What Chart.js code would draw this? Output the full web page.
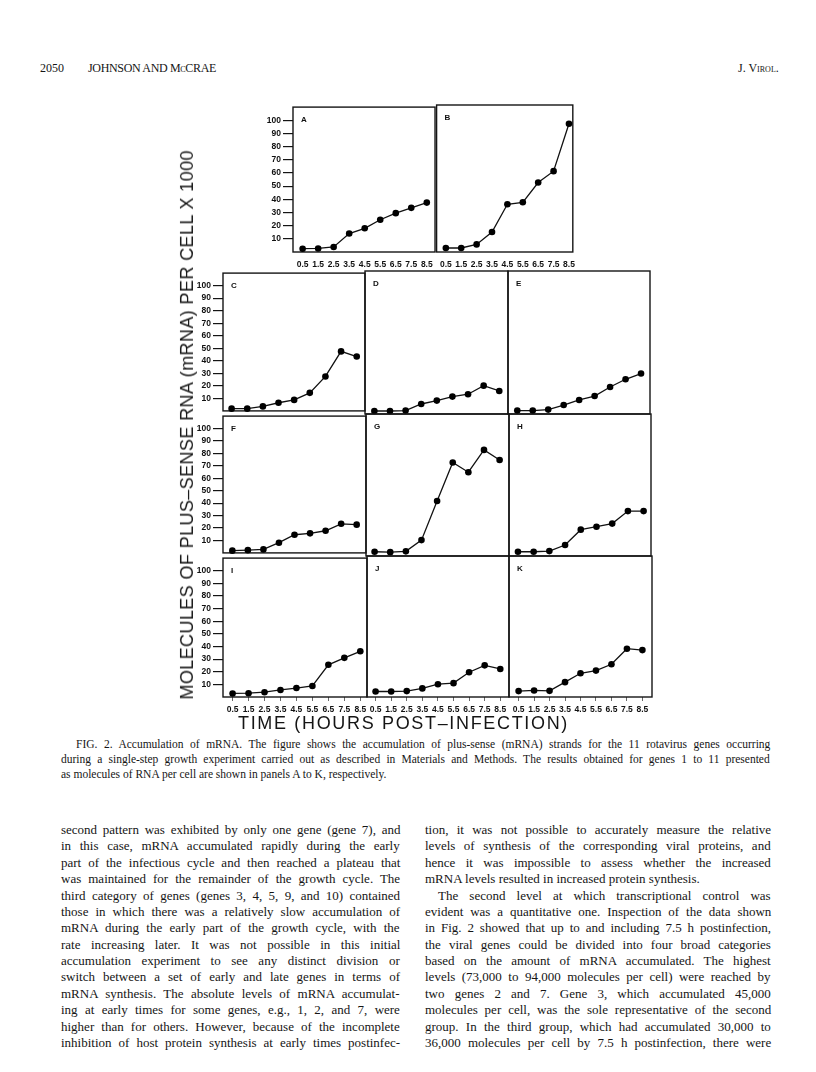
<!DOCTYPE html>
<html><head><meta charset="utf-8">
<script src="https://cdn.jsdelivr.net/npm/chart.js@4"></script>
<style>
html,body{margin:0;padding:0;background:#fff;}
#page{position:relative;width:816px;height:1072px;overflow:hidden;background:#fff;color:#111;}
.tx{position:absolute;white-space:nowrap;font-family:'Liberation Serif','Times New Roman',serif;color:#151515;}
.ttl{position:absolute;white-space:nowrap;font-family:'Liberation Sans',Arial,sans-serif;color:#151515;}
canvas{position:absolute;}
</style></head><body><div id="page"></div>
<script>
// ---------------- data ----------------
const times = [0.5, 1.5, 2.5, 3.5, 4.5, 5.5, 6.5, 7.5, 8.5];
const xTickLabels = ['0.5','1.5','2.5','3.5','4.5','5.5','6.5','7.5','8.5'];
const yTicks = [10, 20, 30, 40, 50, 60, 70, 80, 90, 100];
const yTickLabels = ['10','20','30','40','50','60','70','80','90','100'];
const panelLetters = ['A','B','C','D','E','F','G','H','I','J','K'];
const geneA = [2.5, 2.7, 3.8, 14, 18, 24.5, 29.5, 33.5, 37.5];
const geneB = [3, 3, 5.7, 15, 35.7, 37.2, 52, 60.5, 96];
const geneC = [1.8, 1.8, 3.6, 6.5, 8.8, 14.4, 27.5, 47.5, 43.4];
const geneD = [2.3, 2.3, 2.6, 7.7, 10.3, 13.4, 15.2, 21.8, 17.7];
const geneE = [2.6, 2.6, 3.4, 6.9, 10.8, 13.8, 20.8, 26.7, 31.1];
const geneF = [1.8, 2.2, 2.8, 8.2, 14.6, 15.7, 17.8, 23.4, 22.7];
const geneG = [3.3, 3.0, 3.6, 12.3, 42.6, 72.4, 64.9, 82.2, 74.4];
const geneH = [3.3, 3.3, 3.8, 8.5, 20.4, 22.7, 25.1, 34.8, 34.8];
const geneI = [2.8, 3.0, 3.8, 5.6, 7.1, 8.7, 25.5, 31.0, 36.2];
const geneJ = [4.3, 4.3, 4.6, 6.7, 10.0, 10.8, 19.3, 24.7, 21.9];
const geneK = [4.6, 5.1, 4.8, 11.6, 18.5, 20.6, 25.5, 37.7, 36.6];
const series = [geneA, geneB, geneC, geneD, geneE, geneF, geneG, geneH, geneI, geneJ, geneK];

// ---------------- layout (positions/styles only) ----------------
const panelBoxes = [
  {box:[293,105,436,252], showY:true,  xMode:'top',    xmin:-0.12, xmax:9.03},
  {box:[436,105,578,252], showY:false, xMode:'top',    xmin:-0.10, xmax:8.75},
  {box:[223,271,365,414], showY:true,  xMode:null,     xmin:-0.05, xmax:9.03},
  {box:[365,271,508,414], showY:false, xMode:null,     xmin:-0.10, xmax:9.06},
  {box:[508,271,650,414], showY:false, xMode:null,     xmin:-0.10, xmax:9.08},
  {box:[223,414,366,556], showY:true,  xMode:null,     xmin:-0.10, xmax:9.10},
  {box:[366,414,509,556], showY:false, xMode:null,     xmin:-0.05, xmax:9.10},
  {box:[509,414,651,556], showY:false, xMode:null,     xmin:-0.07, xmax:8.97},
  {box:[223,556,367,697], showY:true,  xMode:'bottom', xmin:-0.10, xmax:8.92},
  {box:[367,556,509,697], showY:false, xMode:'bottom', xmin:-0.05, xmax:9.06},
  {box:[509,556,652,697], showY:false, xMode:'bottom', xmin:-0.12, xmax:9.12}
];

const page = document.getElementById('page');
const tickFont = {family:"'Liberation Sans', Arial, sans-serif", size:8.5, weight:'bold'};

const boxPlugin = {
  id:'panelBox',
  beforeDatasetsDraw(chart, args, opts){
    const {ctx, chartArea:a} = chart;
    ctx.save();
    ctx.strokeStyle = '#141414';
    ctx.lineWidth = 1.4;
    ctx.strokeRect(a.left, a.top, a.right - a.left, a.bottom - a.top);
    ctx.fillStyle = '#111';
    ctx.font = "bold 8px 'Liberation Sans', Arial, sans-serif";
    ctx.textBaseline = 'middle';
    ctx.fillText(opts.letter, a.left + 8, a.top + 13);
    ctx.restore();
  }
};

panelBoxes.forEach((p, i) => {
  const [l, t, r, b] = p.box;
  const padL = p.showY ? 34 : 4, padR = 5, padT = 5, padB = p.xMode ? 22 : 4;
  const W = (r - l) + padL + padR, H = (b - t) + padT + padB;
  const cv = document.createElement('canvas');
  cv.width = W; cv.height = H;
  cv.style.left = (l - padL) + 'px'; cv.style.top = (t - padT) + 'px';
  cv.style.width = W + 'px'; cv.style.height = H + 'px';
  page.appendChild(cv);
  new Chart(cv, {
    type: 'line',
    data: {
      datasets: [{
        data: times.map((x, k) => ({x: x, y: series[i][k]})),
        borderColor: '#111', borderWidth: 1.3,
        pointRadius: 3.3, pointBackgroundColor: '#000', pointBorderColor: '#000', pointBorderWidth: 0,
        tension: 0, clip: false, fill: false
      }]
    },
    options: {
      responsive: false, animation: false, devicePixelRatio: 1,
      layout: {autoPadding: false, padding: {left: p.showY ? 0 : padL, right: padR, top: padT, bottom: p.xMode ? 0 : padB}},
      plugins: {legend: {display: false}, tooltip: {enabled: false}, panelBox: {letter: panelLetters[i]}},
      scales: {
        x: {
          type: 'linear', min: p.xmin, max: p.xmax, display: !!p.xMode,
          afterBuildTicks: s => { s.ticks = times.map(v => ({value: v})); },
          afterFit: s => { if (p.xMode) s.height = padB; else s.height = 0; },
          border: {display: false},
          grid: {display: p.xMode === 'bottom', drawOnChartArea: false, drawTicks: p.xMode === 'bottom', tickLength: 4, color: '#444', lineWidth: 0.8},
          ticks: {font: tickFont, color: '#111', padding: p.xMode === 'bottom' ? 4 : 8, maxRotation: 0, autoSkip: false,
                  callback: (v, k) => xTickLabels[k]}
        },
        y: {
          type: 'linear', min: 0, max: 110, display: p.showY,
          afterBuildTicks: s => { s.ticks = yTicks.map(v => ({value: v})); },
          afterFit: s => { if (p.showY) s.width = padL; else s.width = 0; },
          border: {display: false},
          grid: {display: true, drawOnChartArea: false, drawTicks: true, tickLength: 10, color: '#141414', lineWidth: 1.2},
          ticks: {font: tickFont, color: '#111', padding: 2, autoSkip: false, callback: (v, k) => yTickLabels[k]}
        }
      }
    },
    plugins: [boxPlugin]
  });
});

// ---------------- text ----------------
function addText(html, x, cy, opt) {
  const d = document.createElement('div');
  d.className = opt.cls || 'tx';
  d.innerHTML = html;
  d.style.fontSize = opt.size + 'px';
  d.style.lineHeight = opt.lh ? opt.lh + 'px' : '1.2';
  if (opt.variant) d.style.fontVariant = opt.variant;
  if (opt.weight) d.style.fontWeight = opt.weight;
  page.appendChild(d);
  const h = d.offsetHeight;
  d.style.top = (cy - h / 2) + 'px';
  if (opt.width) {
    const w = d.scrollWidth;
    if (opt.mode === 'justify') {
      const n = (d.textContent.match(/ /g) || []).length;
      if (n > 0) d.style.wordSpacing = ((opt.width - w) / n) + 'px';
    } else if (opt.mode === 'letters') {
      const n = d.textContent.length;
      d.style.letterSpacing = ((opt.width - w) / n) + 'px';
    }
  }
  if (opt.right) {
    d.style.left = (opt.right - d.scrollWidth) + 'px';
  } else {
    d.style.left = x + 'px';
  }
  if (opt.rotate) {
    const w2 = d.scrollWidth;
    d.style.left = (x - w2 / 2) + 'px';
    d.style.transformOrigin = '50% 50%';
    d.style.transform = 'rotate(-90deg)';
  }
  return d;
}

// header
addText('2050', 40, 68, {size: 12});
addText('JOHNSON AND McCRAE', 88, 68, {size: 12, variant: 'small-caps', width: 128, mode: 'letters'});
addText('J. Virol.', 0, 68, {size: 12, variant: 'small-caps', right: 779});

// axis titles
addText('TIME (HOURS POST\u2013INFECTION)', 238, 724, {cls: 'ttl', size: 18, width: 331, mode: 'letters'});
addText('MOLECULES OF PLUS\u2013SENSE RNA (mRNA) PER CELL X 1000', 188, 425, {cls: 'ttl', size: 18, width: 550, mode: 'letters', rotate: true});

// caption
const capLines = [
  'FIG. 2. Accumulation of mRNA. The figure shows the accumulation of plus-sense (mRNA) strands for the 11 rotavirus genes occurring',
  'during a single-step growth experiment carried out as described in Materials and Methods. The results obtained for genes 1 to 11 presented',
  'as molecules of RNA per cell are shown in panels A to K, respectively.'
];
addText(capLines[0], 76, 745, {size: 11.5, width: 694, mode: 'justify'});
addText(capLines[1], 61, 760, {size: 11.5, width: 709, mode: 'justify'});
addText(capLines[2], 61, 774.5, {size: 11.5});

// body text
const leftCol = [
  'second pattern was exhibited by only one gene (gene 7), and',
  'in this case, mRNA accumulated rapidly during the early',
  'part of the infectious cycle and then reached a plateau that',
  'was maintained for the remainder of the growth cycle. The',
  'third category of genes (genes 3, 4, 5, 9, and 10) contained',
  'those in which there was a relatively slow accumulation of',
  'mRNA during the early part of the growth cycle, with the',
  'rate increasing later. It was not possible in this initial',
  'accumulation experiment to see any distinct division or',
  'switch between a set of early and late genes in terms of',
  'mRNA synthesis. The absolute levels of mRNA accumulat-',
  'ing at early times for some genes, e.g., 1, 2, and 7, were',
  'higher than for others. However, because of the incomplete',
  'inhibition of host protein synthesis at early times postinfec-'
];
const rightCol = [
  'tion, it was not possible to accurately measure the relative',
  'levels of synthesis of the corresponding viral proteins, and',
  'hence it was impossible to assess whether the increased',
  'mRNA levels resulted in increased protein synthesis.',
  'The second level at which transcriptional control was',
  'evident was a quantitative one. Inspection of the data shown',
  'in Fig. 2 showed that up to and including 7.5 h postinfection,',
  'the viral genes could be divided into four broad categories',
  'based on the amount of mRNA accumulated. The highest',
  'levels (73,000 to 94,000 molecules per cell) were reached by',
  'two genes 2 and 7. Gene 3, which accumulated 45,000',
  'molecules per cell, was the sole representative of the second',
  'group. In the third group, which had accumulated 30,000 to',
  '36,000 molecules per cell by 7.5 h postinfection, there were'
];
const y0 = 830, pitch = 16.38;
leftCol.forEach((s, k) => addText(s, 61, y0 + k * pitch, {size: 13, width: 339, mode: 'justify'}));
rightCol.forEach((s, k) => {
  if (k === 3) addText(s, 425, y0 + k * pitch, {size: 13});
  else if (k === 4) addText(s, 438, y0 + k * pitch, {size: 13, width: 333, mode: 'justify'});
  else addText(s, 425, y0 + k * pitch, {size: 13, width: 346, mode: 'justify'});
});
</script>
</body></html>
